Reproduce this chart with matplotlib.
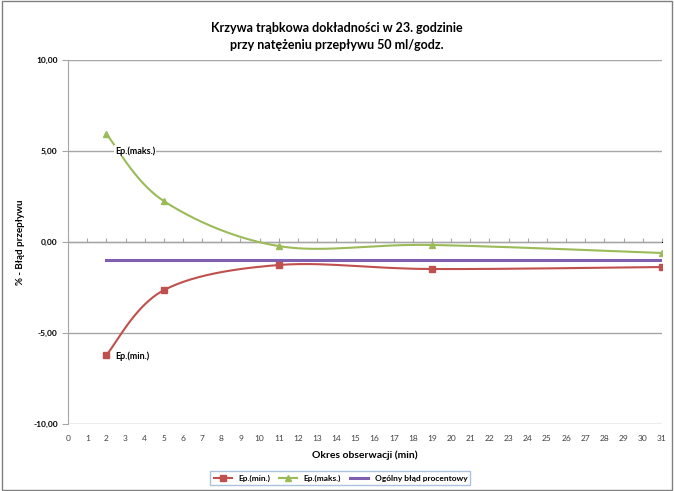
import numpy as np
import matplotlib.pyplot as plt

plt.rcParams['font.family'] = ['Lato', 'DejaVu Sans']

# -------- DATA --------
x_obs = [2, 5, 11, 19, 31]
ep_min = [-6.2, -2.64, -1.26, -1.48, -1.37]
ep_max = [5.93, 2.25, -0.22, -0.16, -0.6]
total_x = [2, 31]
total_err = [-0.99, -0.99]
x_ticks = list(range(0, 32))
y_ticks = [-10, -5, 0, 5, 10]

RED = "#C0504D"
GREEN = "#9BBB59"
PURPLE = "#7F5FB0"


def smooth(xs, ys, n=40):
    # Excel-like smoothed line (bezier with control points from neighbours)
    pts = np.column_stack([xs, ys]).astype(float)
    out = []
    for i in range(len(pts) - 1):
        p0 = pts[max(i - 1, 0)]
        p1 = pts[i]
        p2 = pts[i + 1]
        p3 = pts[min(i + 2, len(pts) - 1)]
        c1 = p1 + (p2 - p0) / 6
        c2 = p2 - (p3 - p1) / 6
        t = np.linspace(0, 1, n)[:, None]
        seg = ((1 - t) ** 3 * p1 + 3 * (1 - t) ** 2 * t * c1
               + 3 * (1 - t) * t ** 2 * c2 + t ** 3 * p2)
        out.append(seg if i == 0 else seg[1:])
    s = np.vstack(out)
    return s[:, 0], s[:, 1]


fig = plt.figure(figsize=(6.74, 4.91), dpi=100)
ax = fig.add_axes([0.101, 0.136, 0.881, 0.742])

# gridlines
for yv in y_ticks:
    ax.axhline(yv, color="#A6A6A6", lw=1.0, zorder=1)

sx, sy = smooth(x_obs, ep_min)
ax.plot(sx, sy, color=RED, lw=1.5, zorder=3)
ax.plot(x_obs, ep_min, ls="none", marker="s", ms=4.5, color=RED, zorder=4)

sx, sy = smooth(x_obs, ep_max)
ax.plot(sx, sy, color=GREEN, lw=1.5, zorder=3)
ax.plot(x_obs, ep_max, ls="none", marker="^", ms=4.5, color=GREEN, zorder=4)

ax.plot(total_x, total_err, color=PURPLE, lw=2.2, zorder=3)

# legend handles
h1, = ax.plot([], [], color=RED, lw=1.5, marker="s", ms=4)
h2, = ax.plot([], [], color=GREEN, lw=1.5, marker="^", ms=4)
h3, = ax.plot([], [], color=PURPLE, lw=2.2)

ax.text(2.45, 5.0, "Ep.(maks.)", fontsize=6.5, fontweight="bold", va="center",
        bbox=dict(facecolor="white", edgecolor="none", pad=0.5), zorder=5)
ax.text(2.45, -6.25, "Ep.(min.)", fontsize=6.5, fontweight="bold", va="center", zorder=5)

ax.set_xlim(0, 31)
ax.set_ylim(-10, 10)
ax.set_yticks(y_ticks)
ax.set_yticklabels([f"{v:.2f}".replace(".", ",") for v in y_ticks],
                   fontsize=6, fontweight="bold")
ax.set_xticks(x_ticks)
ax.set_xticklabels([str(v) for v in x_ticks], fontsize=6, color="#404040")
ax.tick_params(axis="x", length=0, pad=8)
ax.tick_params(axis="y", length=4, color="#A6A6A6", direction="out")

for s in ["top", "right", "bottom"]:
    ax.spines[s].set_visible(False)
ax.spines["left"].set_color("#A6A6A6")

# tick marks on the zero line
sec = ax.secondary_xaxis(0.5)
sec.set_xticks(x_ticks)
sec.set_xticklabels([])
sec.tick_params(length=3, color="#A6A6A6", direction="out")
sec.spines["bottom"].set_visible(False)

ax.set_xlabel("Okres obserwacji (min)", fontsize=7.5, fontweight="bold", labelpad=6)
ax.set_ylabel("% - Błąd przepływu", fontsize=7, fontweight="bold", labelpad=6)

fig.text(0.5, 0.925, "Krzywa trąbkowa dokładności w 23. godzinie\nprzy natężeniu przepływu 50 ml/godz.",
         ha="center", va="center", fontsize=9, fontweight="bold", linespacing=1.5)

leg = fig.legend([h1, h2, h3], ["Ep.(min.)", "Ep.(maks.)", "Ogólny błąd procentowy"],
                 loc="center", bbox_to_anchor=(0.505, 0.026), ncol=3, fontsize=6,
                 frameon=True, fancybox=False, handlelength=2.2, columnspacing=1.0,
                 borderpad=0.4)
leg.get_frame().set_edgecolor("#95B3D7")
leg.get_frame().set_linewidth(1.0)
for t in leg.get_texts():
    t.set_fontweight("bold")

# outer frame
fig.patches.append(plt.Rectangle((0.003, 0.003), 0.994, 0.994, transform=fig.transFigure,
                                 fill=False, edgecolor="#808080", lw=1.0))

fig.savefig("out.png", dpi=100)
